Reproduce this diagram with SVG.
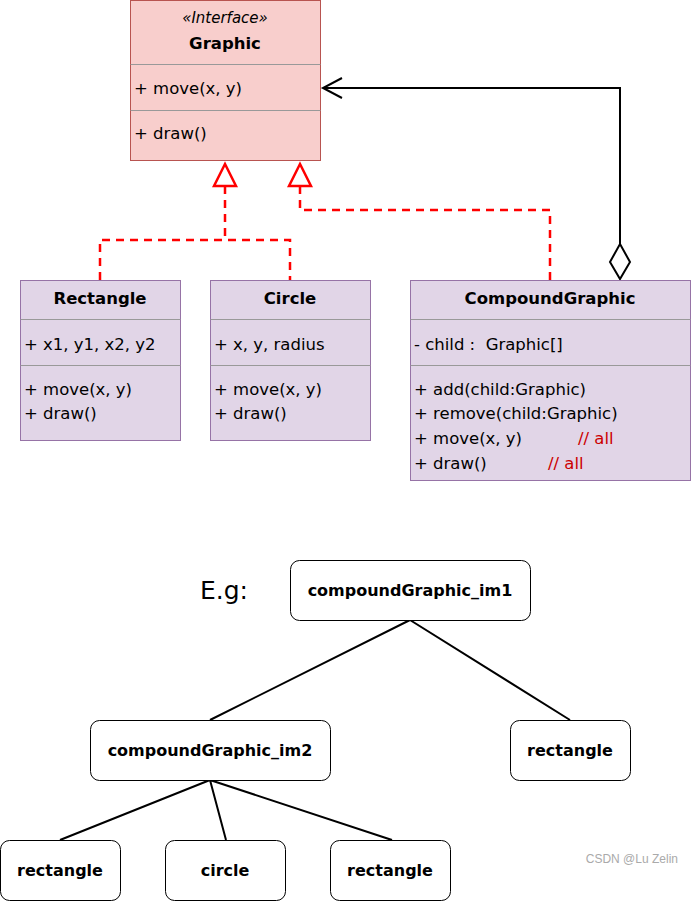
<svg xmlns="http://www.w3.org/2000/svg" width="691" height="902" viewBox="0 0 691 902">
<style>
text{font-family:"DejaVu Sans","Liberation Sans",sans-serif;font-size:16.5px;fill:#000}
.t{font-weight:bold;text-anchor:middle}
.n{font-size:16px}
.i{font-style:italic;text-anchor:middle;font-size:15px}
.eg{font-size:25px}
.wm{font-family:"Liberation Sans",sans-serif;font-size:12px;fill:#aaa;text-anchor:end}
.pink{fill:#f8cecc;stroke:#b85450;stroke-width:1}
.purp{fill:#e1d5e7;stroke:#9673a6;stroke-width:1}
.sep{stroke:#999;stroke-width:1}
.red{fill:#cc0000}
.node{fill:#fff;stroke:#000;stroke-width:1}
.dash{fill:none;stroke:#ff0000;stroke-width:2.5;stroke-dasharray:8 6}
.tri{fill:#fff;stroke:#ff0000;stroke-width:2.5}
.ln{fill:none;stroke:#000;stroke-width:2}
.tree{fill:none;stroke:#000;stroke-width:2}
</style>
<g id="connectors">
<path class="dash" d="M225,186 V240 M100,280 V240 H290 V280"/>
<path class="dash" d="M300,186 V210 H550 V280"/>
<polygon class="tri" points="225,164 214,186 236,186"/>
<polygon class="tri" points="300,164 289,186 311,186"/>
<path class="ln" d="M620,244 V88 H323"/>
<path class="ln" d="M342,78 L323,88 L342,98"/>
<polygon points="620,244 630,262 620,279 610,262" fill="#fff" stroke="#000" stroke-width="2"/>
<path class="tree" d="M410,620 L210,720 M410,620 L570,720 M210,780 L60,840 M210,780 L226,840 M210,780 L392,840"/>
</g>
<g id="graphic">
<rect class="pink" x="130.5" y="0.5" width="190" height="160"/>
<line class="sep" x1="130.5" y1="64.5" x2="320.5" y2="64.5"/>
<line class="sep" x1="130.5" y1="110.5" x2="320.5" y2="110.5"/>
<text class="i" x="225" y="23">«Interface»</text>
<text class="t" x="225" y="49">Graphic</text>
<text x="134" y="94">+ move(x, y)</text>
<text x="134" y="139">+ draw()</text>
</g>
<g id="rectangle">
<rect class="purp" x="20.5" y="280.5" width="160" height="160"/>
<line class="sep" x1="20.5" y1="319.5" x2="180.5" y2="319.5"/>
<line class="sep" x1="20.5" y1="365.5" x2="180.5" y2="365.5"/>
<text class="t" x="100" y="304">Rectangle</text>
<text x="24" y="350">+ x1, y1, x2, y2</text>
<text x="24" y="395">+ move(x, y)</text>
<text x="24" y="419">+ draw()</text>
</g>
<g id="circle">
<rect class="purp" x="210.5" y="280.5" width="160" height="160"/>
<line class="sep" x1="210.5" y1="319.5" x2="370.5" y2="319.5"/>
<line class="sep" x1="210.5" y1="365.5" x2="370.5" y2="365.5"/>
<text class="t" x="290" y="304">Circle</text>
<text x="214" y="350">+ x, y, radius</text>
<text x="214" y="395">+ move(x, y)</text>
<text x="214" y="419">+ draw()</text>
</g>
<g id="compoundgraphic">
<rect class="purp" x="410.5" y="280.5" width="280" height="200"/>
<line class="sep" x1="410.5" y1="319.5" x2="690.5" y2="319.5"/>
<line class="sep" x1="410.5" y1="365.5" x2="690.5" y2="365.5"/>
<text class="t" x="550" y="304">CompoundGraphic</text>
<text x="414" y="350">- child :&#160; Graphic[]</text>
<text x="414" y="395">+ add(child:Graphic)</text>
<text x="414" y="419">+ remove(child:Graphic)</text>
<text x="414" y="444">+ move(x, y)</text>
<text class="red" x="578" y="444">// all</text>
<text x="414" y="469">+ draw()</text>
<text class="red" x="548" y="469">// all</text>
</g>
<g id="eg">
<text class="eg" x="200" y="599">E.g:</text>
</g>
<g id="im1">
<rect class="node" x="290.5" y="560.5" width="240" height="60" rx="9"/>
<text class="t n" x="410" y="596">compoundGraphic_im1</text>
</g>
<g id="im2">
<rect class="node" x="90.5" y="720.5" width="240" height="60" rx="9"/>
<text class="t n" x="210" y="756">compoundGraphic_im2</text>
</g>
<g id="rect_r">
<rect class="node" x="510.5" y="720.5" width="120" height="60" rx="9"/>
<text class="t n" x="570" y="756">rectangle</text>
</g>
<g id="rect_l">
<rect class="node" x="0.5" y="840.5" width="120" height="60" rx="9"/>
<text class="t n" x="60" y="876">rectangle</text>
</g>
<g id="circle_n">
<rect class="node" x="165.5" y="840.5" width="120" height="60" rx="9"/>
<text class="t n" x="225" y="876">circle</text>
</g>
<g id="rect_m">
<rect class="node" x="330.5" y="840.5" width="120" height="60" rx="9"/>
<text class="t n" x="390" y="876">rectangle</text>
</g>
<text class="wm" x="678" y="863">CSDN @Lu Zelin</text>
</svg>
